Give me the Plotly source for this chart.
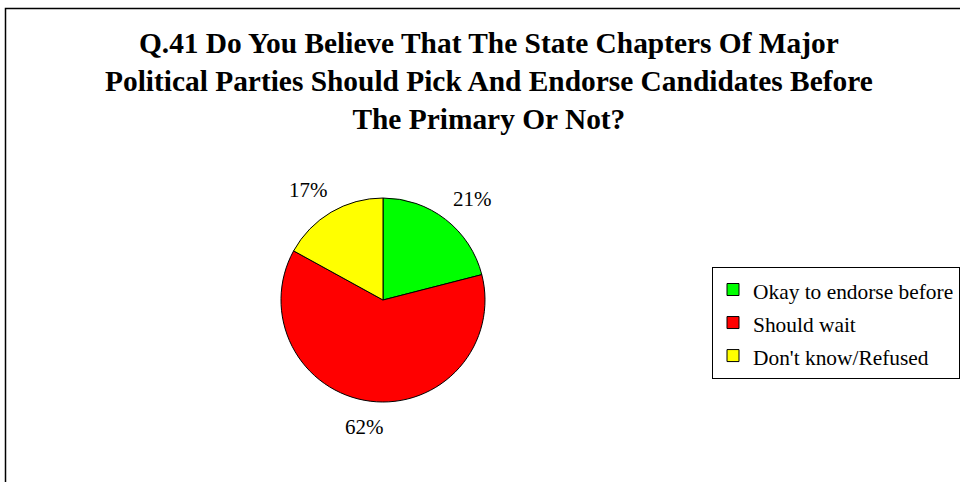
import math
import plotly.graph_objects as go

# Survey answers for Q.41
answers = ["Okay to endorse before", "Should wait", "Don't know/Refused"]
shares = [21, 62, 17]
slice_colors = ["#00FF00", "#FF0000", "#FFFF00"]

title_lines = [
    "Q.41 Do You Believe That The State Chapters Of Major",
    "Political Parties Should Pick And Endorse Candidates Before",
    "The Primary Or Not?",
]

W, H = 960, 482
SERIF = "Liberation Serif"

# pie placement in pixels
cx, cy, r = 383, 300, 102


def px_x(x):
    return x / W


def px_y(y):
    return 1 - y / H


fig = go.Figure()

fig.add_trace(
    go.Pie(
        labels=[f'<span style="font-size:21.4px">{a}</span>' for a in answers],
        values=shares,
        sort=False,
        direction="clockwise",
        rotation=0,
        marker=dict(colors=slice_colors, line=dict(color="black", width=1)),
        textinfo="none",
        hoverinfo="label+percent",
        domain=dict(x=[px_x(cx - r), px_x(cx + r)], y=[px_y(cy + r), px_y(cy - r)]),
    )
)

# percentage labels set outside each slice, offset from its mid angle
total = sum(shares)
start = 0.0
annotations = []
for v in shares:
    frac = v / total
    mid = (start + frac / 2) * 2 * math.pi
    start += frac
    s, c = math.sin(mid), math.cos(mid)
    annotations.append(
        dict(
            x=px_x(cx + (r + 44) * s),
            y=px_y(cy - (r + 26) * c),
            xref="paper",
            yref="paper",
            text=f"{round(frac * 100)}%",
            showarrow=False,
            xanchor="center",
            yanchor="middle",
            font=dict(family=SERIF, size=21, color="black"),
        )
    )

annotations.append(
    dict(
        x=px_x(489),
        y=px_y(25),
        xref="paper",
        yref="paper",
        text="<br>".join(title_lines),
        showarrow=False,
        xanchor="center",
        yanchor="top",
        align="center",
        font=dict(family=SERIF, size=29.4, color="black", weight="bold"),
    )
)

fig.update_layout(
    width=W,
    height=H,
    margin=dict(l=0, r=0, t=0, b=0, autoexpand=False),
    paper_bgcolor="white",
    plot_bgcolor="white",
    showlegend=True,
    legend=dict(
        x=px_x(712),
        y=px_y(267),
        xanchor="left",
        yanchor="top",
        bgcolor="white",
        bordercolor="black",
        borderwidth=1,
        font=dict(family=SERIF, size=23.1, color="black"),
        traceorder="normal",
    ),
    annotations=annotations,
    shapes=[
        dict(
            type="rect",
            xref="paper",
            yref="paper",
            x0=px_x(5.5),
            x1=1.2,
            y0=-0.2,
            y1=px_y(8.5),
            line=dict(color="black", width=1.5),
            fillcolor="rgba(0,0,0,0)",
            layer="below",
        )
    ],
)

fig.write_html("out.html")
